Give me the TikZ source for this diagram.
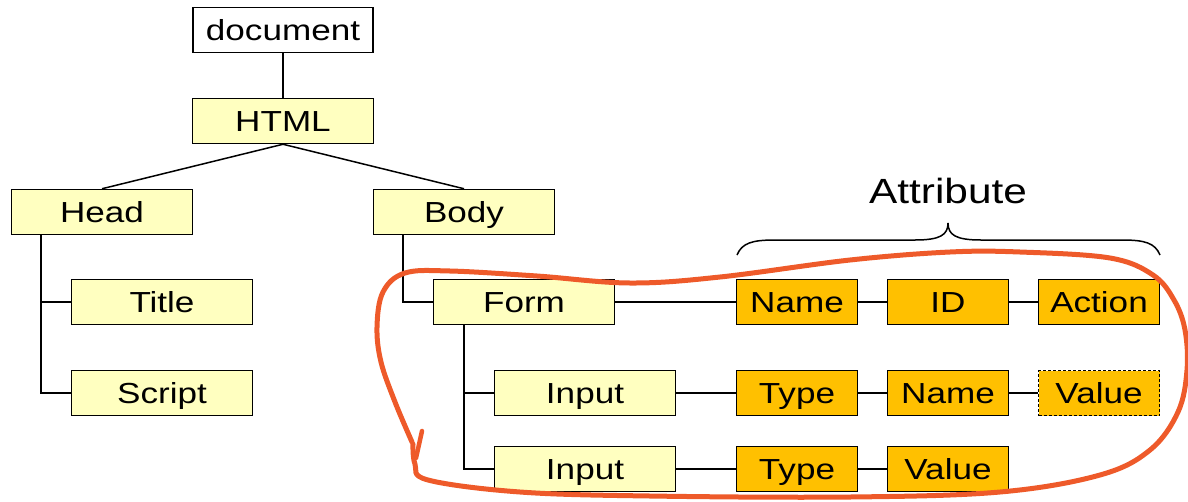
\documentclass[tikz,border=0pt]{standalone}
\usepackage{fontspec}
\setmainfont[FakeStretch=1.21]{Liberation Sans}
\definecolor{ly}{HTML}{FFFFC0}
\definecolor{og}{HTML}{FFC000}
\definecolor{pen}{HTML}{EE5A2A}
\begin{document}
\begin{tikzpicture}[x=1pt,y=-1pt,
  bx/.style={draw=black,line width=1.5pt,minimum height=45pt,inner sep=0pt,text height=21pt,text depth=1pt,font=\fontsize{29}{30}\selectfont},
  wbox/.style={bx,fill=white,minimum width=180pt},
  ybox/.style={bx,fill=ly,minimum width=181pt},
  obox/.style={bx,fill=og,minimum width=121pt},
  conn/.style={line width=1.5pt,black}]
\useasboundingbox (0,0) rectangle (1188,501);
\node[wbox] (doc) at (283,30) {document};
\node[ybox] (html) at (283,121) {HTML};
\node[ybox] (head) at (102,212) {Head};
\node[ybox] (body) at (464,212) {Body};
\node[ybox] (title) at (162,302) {Title};
\node[ybox] (script) at (162,393) {Script};
\node[ybox] (form) at (524,302) {Form};
\node[ybox] (in1) at (585,393) {Input};
\node[ybox] (in2) at (585,469) {Input};
\node[obox] (a1) at (797,302) {Name};
\node[obox] (a2) at (948,302) {ID};
\node[obox] (a3) at (1099,302) {Action};
\node[obox] (b1) at (797,393) {Type};
\node[obox] (b2) at (948,393) {Name};
\node[obox,dash pattern=on 3pt off 2pt] (b3) at (1099,393) {Value};
\node[obox] (c1) at (797,469) {Type};
\node[obox] (c2) at (948,469) {Value};
\node[font=\fontsize{35}{36}\selectfont] (attr) at (948,191) {Attribute};
\draw[conn] (doc.south) -- (html.north);
\draw[conn] (html.south) -- (head.north);
\draw[conn] (html.south) -- (body.north);
\draw[conn] ([xshift=30pt]head.south west) |- (title.west);
\draw[conn] ([xshift=30pt]head.south west) |- (script.west);
\draw[conn] ([xshift=30pt]body.south west) |- (form.west);
\draw[conn] ([xshift=31pt]form.south west) |- (in1.west);
\draw[conn] ([xshift=31pt]form.south west) |- (in2.west);
\draw[conn] (form.east) -- (a1.west);
\draw[conn] (a1.east) -- (a2.west);
\draw[conn] (a2.east) -- (a3.west);
\draw[conn] (in1.east) -- (b1.west);
\draw[conn] (b1.east) -- (b2.west);
\draw[conn] (b2.east) -- (b3.west);
\draw[conn] (in2.east) -- (c1.west);
\draw[conn] (c1.east) -- (c2.west);
% brace
\coordinate (bl) at (737,255);
\coordinate (br) at (1160,255);
\coordinate (bt) at (948,223);
\draw[line width=1.5pt] (bl) .. controls (742,243) and (752,240) .. (775,240) -- (915,240)
  .. controls (940,240) and (948,235) .. (bt)
  .. controls (948,235) and (956,240) .. (981,240) -- (1122,240)
  .. controls (1145,240) and (1155,243) .. (br);
% hand-drawn loop
\draw[pen,line width=5pt,line cap=round,line join=round]
  plot[smooth,tension=0.6] coordinates {(413,444) (415,464) (428,480) (520,492) (650,496) (850,497) (1000,492) (1100,475) (1150,450) (1178,412) (1187,370) (1185,330) (1174,300) (1153,275) (1110,258) (1020,252) (950,252) (850,260) (720,277) (630,283) (537,276) (450,271) (405,273) (383,292) (377,327) (381,362) (395,402) (412,442)};
\draw[pen,line width=4.5pt,line cap=round] (422,431) -- (416,458);
\end{tikzpicture}
\end{document}
